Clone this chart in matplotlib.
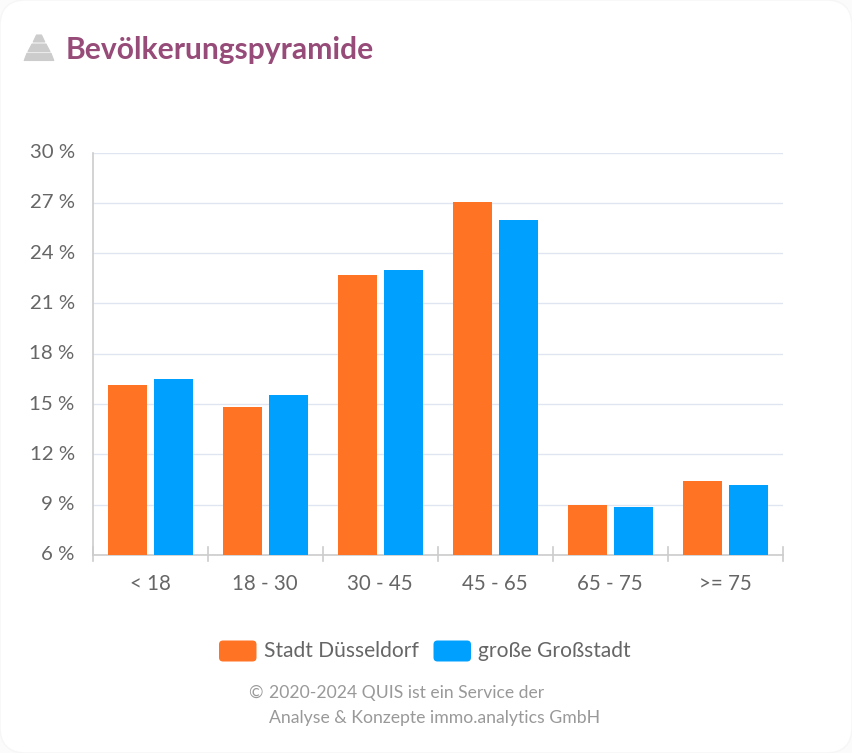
import matplotlib
matplotlib.use("Agg")
import matplotlib.pyplot as plt
from matplotlib.patches import FancyBboxPatch, Polygon
from matplotlib.lines import Line2D
from matplotlib.transforms import ScaledTranslation
import numpy as np

plt.rcParams['font.family'] = ['Lato', 'DejaVu Sans']

categories = ['< 18', '18 - 30', '30 - 45', '45 - 65', '65 - 75', '>= 75']
series_names = ['Stadt Düsseldorf', 'große Großstadt']
duesseldorf = [16.13, 14.8, 22.67, 27.07, 8.97, 10.4]
grossstadt = [16.47, 15.55, 23.0, 26.0, 8.87, 10.18]
y_ticks = [6, 9, 12, 15, 18, 21, 24, 27, 30]
title = 'Bevölkerungspyramide'
footer_sign = '©'
footer_1 = '2020-2024 QUIS ist ein Service der'
footer_2 = 'Analyse & Konzepte immo.analytics GmbH'

W, H = 852, 753
ORANGE, BLUE = '#FF7324', '#00A0FF'
TXT = '#666666'
AXC = '#CCCCCC'
fig = plt.figure(figsize=(W / 100, H / 100), dpi=100, facecolor='#FBFBFB')

def fx(x): return x / W
def fy(y): return 1 - y / H

# white rounded card behind everything (pixel coordinates)
card = FancyBboxPatch((0.0, 0.0), W, H, boxstyle='round,pad=0,rounding_size=26',
                      transform=matplotlib.transforms.IdentityTransform(),
                      facecolor='white', edgecolor='#F6F6F6', lw=1, zorder=-5)
fig.add_artist(card)

# pyramid icon
for pts in ([(36.5, 35), (41.5, 35), (44.8, 42), (33.2, 42)],
            [(32, 44), (46, 44), (50, 51.5), (28, 51.5)],
            [(27, 53.2), (51, 53.2), (53.8, 60.5), (24.2, 60.5)]):
    fig.add_artist(Polygon([(fx(a), fy(b)) for a, b in pts], closed=True, transform=fig.transFigure,
                           facecolor=AXC, edgecolor=AXC, lw=0.8, joinstyle='round'))

fig.text(fx(65.5), fy(58.5), title, fontsize=21.6, color='#964B78', fontweight='bold', va='baseline', ha='left')

ax = fig.add_axes([fx(92.8), fy(554.9), fx(690), (554.9 - 152.6) / H])
ax.set_facecolor('none')
x = np.arange(len(categories))
bw = 39 / 115
ax.bar(x - 0.2, duesseldorf, bw, color=ORANGE, zorder=3)
ax.bar(x + 0.2, grossstadt, bw, color=BLUE, zorder=3)
ax.set_xlim(-0.5, 5.5)
ax.set_ylim(6, 30)
ax.set_yticks(y_ticks)
ax.set_yticklabels([f'{v} %' for v in y_ticks], fontsize=14.7, color=TXT)
ax.set_xticks(x)
ax.set_xticklabels(categories, fontsize=14.8, color=TXT)
ax.tick_params(axis='x', length=0, pad=13.5)
ax.tick_params(axis='y', length=0, pad=13)
up = ScaledTranslation(0, 1.5 / 100, fig.dpi_scale_trans)
for lab in ax.get_yticklabels():
    lab.set_transform(lab.get_transform() + up)
ax.grid(axis='y', color='#E0E6F1', lw=1, zorder=0)
ax.set_axisbelow(True)
for s in ('top', 'right'):
    ax.spines[s].set_visible(False)
ax.spines['left'].set_color(AXC)
ax.spines['bottom'].set_color(AXC)
ax.spines['left'].set_linewidth(1.2)
ax.spines['bottom'].set_linewidth(1.2)

# category boundary ticks (straddling the axis line)
tr = ax.get_xaxis_transform()
for b in np.arange(-0.5, 6, 1):
    ax.add_line(Line2D([b, b], [-6.5 / 402.5, 8 / 402.5], transform=tr, color=AXC, lw=1.2,
                       clip_on=False, zorder=2))

# legend
for left, col, name, tx in ((219, ORANGE, series_names[0], 264.5), (433.5, BLUE, series_names[1], 478.5)):
    p = FancyBboxPatch((left + 0, H - 661.5), 37.5, 21, boxstyle='round,pad=0,rounding_size=4',
                       transform=matplotlib.transforms.IdentityTransform(),
                       facecolor=col, edgecolor='none')
    fig.add_artist(p)
    fig.text(fx(tx), fy(657), name, fontsize=15.15, color=TXT, va='baseline', ha='left')

fig.text(fx(248.5), fy(698), footer_sign, fontsize=12.6, color='#999999', va='baseline', ha='left')
fig.text(fx(269), fy(698), footer_1, fontsize=12.6, color='#999999', va='baseline', ha='left')
fig.text(fx(269), fy(722.5), footer_2, fontsize=12.7, color='#999999', va='baseline', ha='left')

fig.savefig('out.png', dpi=100, facecolor=fig.get_facecolor())
